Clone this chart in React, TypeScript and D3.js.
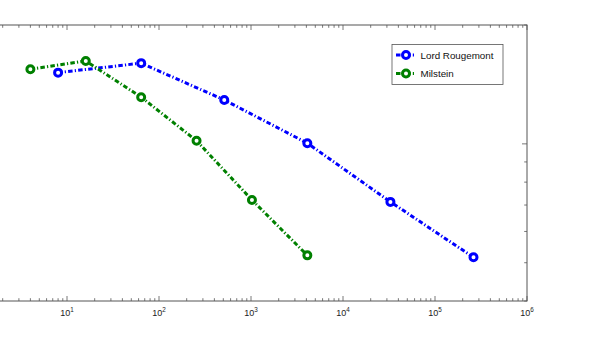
import React from "react";
import * as d3 from "d3";

// series (x = work, y = error)
const rougemontX = [8, 64, 512, 4096, 32768, 262144];
const rougemontY = [1.515, 1.601, 1.292, 1.004, 0.713, 0.516];
const milsteinX = [4, 16, 64, 256, 1024, 4096];
const milsteinY = [1.545, 1.622, 1.313, 1.018, 0.721, 0.522];
const seriesNames = ["Lord Rougemont", "Milstein"];
const seriesColors = ["#0000ff", "#008000"];

const xDomain = [1, 1e6];
const yDomain = [0.4, 2];

const W = 595,
	H = 339;
const plot = { left: -25, right: 527, top: 25, bottom: 301 };
const axisColor = "#555";
const dash = "4.5,2.2,1.2,2.2";

const App = () => {
	const x = d3.scaleLog().domain(xDomain).range([plot.left, plot.right]);
	const y = d3.scaleLog().domain(yDomain).range([plot.bottom, plot.top]);

	const xTicks = x.ticks();
	const yTicks = y.ticks();
	const isMajor = (v: number) => Math.abs(Math.log10(v) - Math.round(Math.log10(v))) < 1e-9;

	const line = d3
		.line<[number, number]>()
		.x((d) => x(d[0]))
		.y((d) => y(d[1]));

	const series = [
		{ xs: rougemontX, ys: rougemontY },
		{ xs: milsteinX, ys: milsteinY },
	].map((s, i) => ({
		name: seriesNames[i],
		color: seriesColors[i],
		pts: s.xs.map((v, j) => [v, s.ys[j]] as [number, number]),
	}));

	const legend = { x: 392, y: 44.5, w: 111, h: 40 };

	// labels whose centre would sit left of the page are not shown in the picture
	const xLabels = xTicks.filter((t) => isMajor(t) && x(t) > 10);

	return (
		<div style={{ position: "absolute", left: 0, top: 0 }}>
			<svg width={W} height={H} style={{ display: "block", background: "#fff" }}>
				{/* axes box */}
				<rect
					x={plot.left}
					y={plot.top}
					width={plot.right - plot.left}
					height={plot.bottom - plot.top}
					fill="none"
					stroke={axisColor}
					strokeWidth={1}
				/>
				{/* x ticks, top and bottom, pointing inward */}
				{xTicks.map((t, i) => {
					const len = isMajor(t) ? 5 : 2.8;
					const px = x(t);
					return (
						<g key={"xt" + i} stroke={axisColor} strokeWidth={0.8}>
							<line x1={px} x2={px} y1={plot.bottom} y2={plot.bottom - len} />
							<line x1={px} x2={px} y1={plot.top} y2={plot.top + len} />
						</g>
					);
				})}
				{/* y ticks, left and right */}
				{yTicks.map((t, i) => {
					const len = isMajor(t) ? 5 : 2.8;
					const py = y(t);
					return (
						<g key={"yt" + i} stroke={axisColor} strokeWidth={0.8}>
							<line x1={plot.right} x2={plot.right - len} y1={py} y2={py} />
							<line x1={plot.left} x2={plot.left + len} y1={py} y2={py} />
						</g>
					);
				})}
				{/* x tick labels */}
				{xLabels.map((t, i) => (
					<text
						key={"xl" + i}
						x={x(t)}
						y={316}
						textAnchor="middle"
						fontFamily="Liberation Sans, Arial, sans-serif"
						fontSize={9}
						fill="#222"
					>
						10
						<tspan dy={-4.5} fontSize={6.3}>
							{Math.round(Math.log10(t))}
						</tspan>
					</text>
				))}
				{/* series */}
				{series.map((s, i) => (
					<g key={"s" + i}>
						<path
							d={line(s.pts) || ""}
							fill="none"
							stroke={s.color}
							strokeWidth={3}
							strokeDasharray={dash}
						/>
						{s.pts.map((p, j) => (
							<circle
								key={j}
								cx={x(p[0])}
								cy={y(p[1])}
								r={3.5}
								fill="#fff"
								stroke={s.color}
								strokeWidth={3}
							/>
						))}
					</g>
				))}
				{/* legend */}
				<rect
					x={legend.x}
					y={legend.y}
					width={legend.w}
					height={legend.h}
					fill="#fff"
					stroke={axisColor}
					strokeWidth={0.8}
				/>
				{series.map((s, i) => {
					const ly = legend.y + 10.5 + i * 18.5;
					return (
						<g key={"lg" + i}>
							<line
								x1={legend.x + 4}
								x2={legend.x + 24}
								y1={ly}
								y2={ly}
								stroke={s.color}
								strokeWidth={3}
								strokeDasharray={dash}
							/>
							<circle cx={legend.x + 14} cy={ly} r={3.5} fill="#fff" stroke={s.color} strokeWidth={3} />
							<text
								x={legend.x + 28.5}
								y={ly + 3.5}
								fontFamily="Liberation Sans, Arial, sans-serif"
								fontSize={9.8}
								fill="#111"
							>
								{s.name}
							</text>
						</g>
					);
				})}
			</svg>
		</div>
	);
};

export default App;
